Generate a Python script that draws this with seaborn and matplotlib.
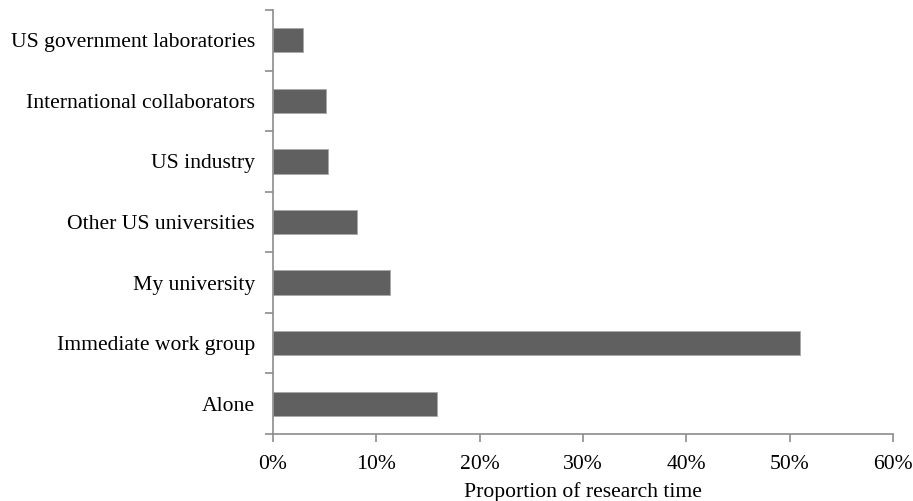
import matplotlib
matplotlib.use("Agg")
import matplotlib.pyplot as plt
import seaborn as sns
import pandas as pd
import numpy as np
from matplotlib.ticker import FixedLocator, PercentFormatter

categories = ["US government laboratories", "International collaborators", "US industry",
              "Other US universities", "My university", "Immediate work group", "Alone"]
values = [2.9, 5.1, 5.3, 8.1, 11.3, 51.0, 15.9]
xticks = [0, 10, 20, 30, 40, 50, 60]

sns.set_theme(style="white")
plt.rcParams['font.family'] = ['Liberation Serif', 'DejaVu Serif']

df = pd.DataFrame({"cat": categories, "val": values})

fig = plt.figure(figsize=(9.13, 5.01), dpi=100)
ax = fig.add_axes([273/913, 1-434/501, (893-273)/913, (434-10)/501])
sns.barplot(data=df, y="cat", x="val", order=categories, orient="h",
            color="#606060", width=0.4, ax=ax, saturation=1,
            edgecolor="#a8a8a8", linewidth=0.6)

ax.set_xlim(0, 60)
ax.set_ylim(6.5, -0.5)
ax.set_xticks(xticks)
ax.xaxis.set_major_formatter(PercentFormatter(decimals=0))
ax.yaxis.set_minor_locator(FixedLocator(np.arange(-0.5, 7, 1)))
ax.tick_params(axis="y", which="major", length=0, pad=13, labelsize=15.6, labelcolor="black")
ax.tick_params(axis="y", which="minor", length=6, width=1.2, color="#8c8c8c", left=True)
ax.tick_params(axis="x", which="major", length=6, width=1.2, color="#8c8c8c", bottom=True,
               pad=9, labelsize=15.6, labelcolor="black")
for s in ["top", "right"]:
    ax.spines[s].set_visible(False)
for s in ["left", "bottom"]:
    ax.spines[s].set_color("#8c8c8c")
    ax.spines[s].set_linewidth(1.2)
ax.set_ylabel("")
ax.set_xlabel("Proportion of research time", fontsize=15.6, color="black", labelpad=6)

fig.savefig("out.png", dpi=100)
